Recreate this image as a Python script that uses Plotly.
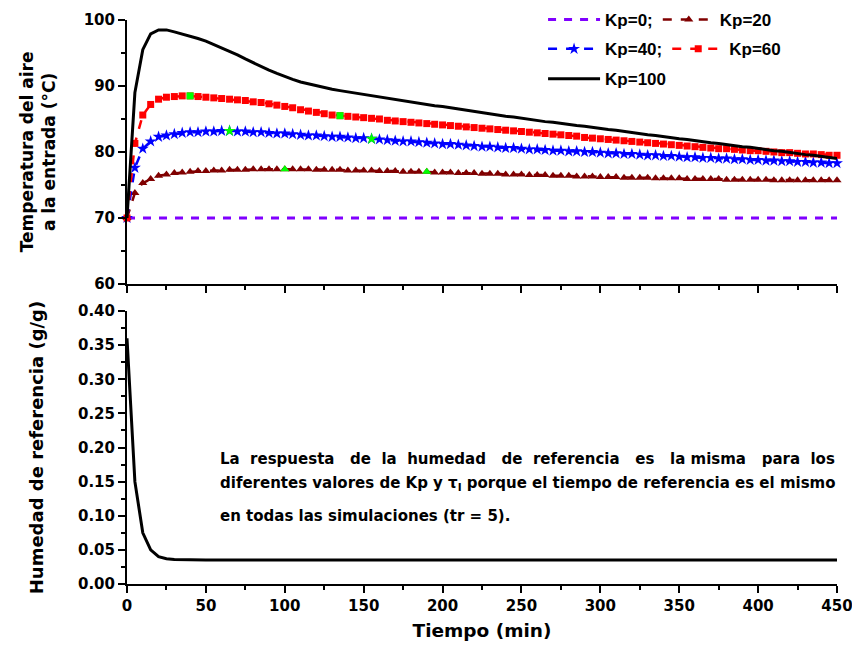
import plotly.graph_objects as go

# ---------------- data ----------------
T = list(range(0, 455, 5))  # time grid, min

KP0_T = [0, 450]
KP0 = [70.0, 70.0]

KP20 = [70.0, 73.8, 75.3, 75.9, 76.4, 76.6, 76.8, 76.9, 77.0, 77.1,
        77.1, 77.2, 77.2, 77.3, 77.3, 77.3, 77.4, 77.4, 77.4, 77.4,
        77.4, 77.4, 77.4, 77.4, 77.3, 77.3, 77.3, 77.3, 77.2, 77.2,
        77.2, 77.2, 77.1, 77.1, 77.1, 77.0, 77.0, 77.0, 77.0, 76.9,
        76.9, 76.9, 76.8, 76.8, 76.8, 76.7, 76.7, 76.7, 76.6, 76.6,
        76.6, 76.5, 76.5, 76.5, 76.4, 76.4, 76.4, 76.3, 76.3, 76.3,
        76.2, 76.2, 76.2, 76.1, 76.1, 76.1, 76.1, 76.0, 76.0, 76.0,
        76.0, 75.9, 75.9, 75.9, 75.9, 75.9, 75.8, 75.8, 75.8, 75.8,
        75.8, 75.8, 75.7, 75.7, 75.7, 75.7, 75.7, 75.7, 75.7, 75.7,
        75.7]

KP40 = [70.0, 77.6, 80.5, 81.6, 82.3, 82.5, 82.7, 82.9, 83.0, 83.0,
        83.1, 83.1, 83.2, 83.2, 83.1, 83.1, 83.0, 83.0, 82.9, 82.8,
        82.8, 82.7, 82.6, 82.5, 82.5, 82.4, 82.3, 82.3, 82.2, 82.1,
        82.1, 82.0, 81.9, 81.8, 81.7, 81.6, 81.6, 81.5, 81.4, 81.3,
        81.2, 81.2, 81.1, 81.0, 80.9, 80.8, 80.8, 80.7, 80.6, 80.6,
        80.5, 80.4, 80.4, 80.3, 80.2, 80.2, 80.1, 80.1, 80.0, 80.0,
        79.9, 79.8, 79.8, 79.7, 79.7, 79.6, 79.5, 79.5, 79.4, 79.4,
        79.3, 79.2, 79.2, 79.1, 79.1, 79.0, 79.0, 78.9, 78.9, 78.8,
        78.8, 78.7, 78.7, 78.6, 78.6, 78.5, 78.5, 78.4, 78.4, 78.3,
        78.3]

KP60 = [70.0, 81.3, 85.6, 87.2, 88.0, 88.3, 88.4, 88.5, 88.5, 88.4,
        88.3, 88.2, 88.1, 88.0, 87.9, 87.8, 87.6, 87.5, 87.3, 87.1,
        86.9, 86.7, 86.4, 86.2, 86.0, 85.8, 85.6, 85.5, 85.4, 85.3,
        85.2, 85.1, 85.0, 84.8, 84.7, 84.6, 84.5, 84.4, 84.3, 84.2,
        84.1, 84.0, 83.9, 83.8, 83.7, 83.6, 83.5, 83.4, 83.3, 83.2,
        83.1, 83.0, 82.9, 82.8, 82.7, 82.6, 82.5, 82.4, 82.2, 82.1,
        82.0, 81.9, 81.8, 81.7, 81.6, 81.5, 81.4, 81.3, 81.2, 81.1,
        81.0, 80.9, 80.8, 80.7, 80.6, 80.5, 80.5, 80.4, 80.3, 80.2,
        80.2, 80.1, 80.0, 79.9, 79.9, 79.8, 79.7, 79.7, 79.6, 79.5,
        79.5]

KP100 = [70.0, 89.0, 95.5, 97.9, 98.5, 98.5, 98.2, 97.9, 97.6, 97.2,
         96.8, 96.3, 95.8, 95.3, 94.7, 94.1, 93.5, 92.9, 92.4, 91.9,
         91.4, 91.0, 90.6, 90.3, 90.0, 89.7, 89.5, 89.3, 89.1, 88.9,
         88.8, 88.6, 88.4, 88.2, 88.0, 87.8, 87.6, 87.4, 87.2, 87.0,
         86.9, 86.7, 86.5, 86.3, 86.1, 85.9, 85.8, 85.6, 85.4, 85.3,
         85.1, 84.9, 84.8, 84.6, 84.5, 84.3, 84.2, 84.0, 83.9, 83.7,
         83.6, 83.4, 83.3, 83.1, 83.0, 82.8, 82.6, 82.5, 82.3, 82.2,
         82.0, 81.9, 81.7, 81.6, 81.4, 81.3, 81.1, 81.0, 80.8, 80.7,
         80.5, 80.4, 80.2, 80.1, 79.9, 79.8, 79.6, 79.5, 79.3, 79.2,
         79.0]

# highlighted (green) points, times in min
HL_KP20 = [100, 190]
HL_KP40 = [65, 155]
HL_KP60 = [40, 135]

H_T = [0, 5, 10, 15, 20, 25, 30, 35, 40, 50, 100, 150, 200, 250, 300, 350, 400, 450]
H = [0.36, 0.15, 0.075, 0.05, 0.04, 0.037, 0.036, 0.0355, 0.035, 0.035,
     0.035, 0.035, 0.035, 0.035, 0.035, 0.035, 0.035, 0.035]

NOTE_LINES = [
    "La  respuesta   de  la  humedad   de  referencia   es   la misma   para  los",
    "diferentes valores de Kp y τ<sub>I</sub> porque el tiempo de referencia es el mismo",
    "en todas las simulaciones (tr = 5).",
]

# ---------------- figure ----------------
WIDE = "DejaVu Sans, sans-serif"
ARIAL = "Liberation Sans, Arial, sans-serif"
fig = go.Figure()

fig.add_trace(go.Scatter(x=KP0_T, y=KP0, mode="lines", name="Kp=0;",
                         line=dict(color="#8000FF", width=3, dash="8px,8px"),
                         legend="legend", xaxis="x", yaxis="y"))
fig.add_trace(go.Scatter(x=T, y=KP20, mode="lines+markers", name="Kp=20",
                         line=dict(color="#800000", width=2.5, dash="dash"),
                         marker=dict(symbol="triangle-up", size=8, color="#800000"),
                         legend="legend", xaxis="x", yaxis="y", cliponaxis=False))
fig.add_trace(go.Scatter(x=T, y=KP40, mode="lines+markers", name="Kp=40;",
                         line=dict(color="#0000FF", width=2.5, dash="dash"),
                         marker=dict(symbol="star", size=9, color="#0000FF"),
                         legend="legend2", xaxis="x", yaxis="y", cliponaxis=False))
fig.add_trace(go.Scatter(x=T, y=KP60, mode="lines+markers", name="Kp=60",
                         line=dict(color="#FF0000", width=2.5, dash="dash"),
                         marker=dict(symbol="square", size=7, color="#FF0000"),
                         legend="legend2", xaxis="x", yaxis="y", cliponaxis=False))
fig.add_trace(go.Scatter(x=T, y=KP100, mode="lines", name="Kp=100",
                         line=dict(color="black", width=3),
                         legend="legend3", xaxis="x", yaxis="y", cliponaxis=False))

for hl, ser, sym, sz in [(HL_KP20, KP20, "triangle-up", 8),
                         (HL_KP40, KP40, "star", 9),
                         (HL_KP60, KP60, "square", 7)]:
    fig.add_trace(go.Scatter(x=hl, y=[ser[T.index(t)] for t in hl], mode="markers",
                             marker=dict(symbol=sym, size=sz, color="#00FF00"),
                             showlegend=False, xaxis="x", yaxis="y", cliponaxis=False))

fig.add_trace(go.Scatter(x=H_T, y=H, mode="lines", line=dict(color="black", width=3),
                         showlegend=False, xaxis="x2", yaxis="y2", cliponaxis=False))

axis_common = dict(showline=True, linewidth=2, linecolor="black", ticks="outside",
                   ticklen=7, tickwidth=2, tickcolor="black", showgrid=False,
                   zeroline=False, mirror=False, automargin=False,
                   ticklabeloverflow="allow")
minor_common = dict(ticks="outside", ticklen=4, tickwidth=2, tickcolor="black")
tickfont = dict(size=15, family=WIDE, weight="bold", color="black")

leg_common = dict(orientation="h", xanchor="left", yanchor="top",
                  bgcolor="rgba(0,0,0,0)", itemwidth=52,
                  font=dict(size=17, family=ARIAL, weight="bold", color="black"))

fig.update_layout(
    width=852, height=650,
    margin=dict(l=127, r=15, t=20, b=66, autoexpand=False),
    paper_bgcolor="white", plot_bgcolor="white",
    font=dict(family=ARIAL, color="black", weight="bold"),
    xaxis=dict(domain=[0, 1], range=[0, 450], anchor="y", tickvals=list(range(0, 451, 50)),
               showticklabels=False, minor=dict(dtick=25, **minor_common), **axis_common),
    yaxis=dict(domain=[0.532, 1], range=[60, 100], anchor="x", tickvals=[60, 70, 80, 90, 100],
               tickfont=tickfont, minor=dict(dtick=5, **minor_common),
               title=dict(text="Temperatura del aire<br>a la entrada (°C)",
                          font=dict(size=17, family=WIDE, weight="bold"), standoff=24),
               **axis_common),
    xaxis2=dict(domain=[0, 1], range=[0, 450], anchor="y2", tickvals=list(range(0, 451, 50)),
                tickfont=tickfont, minor=dict(dtick=25, **minor_common),
                title=dict(text="Tiempo (min)", font=dict(size=18.5, family=WIDE, weight="bold"),
                           standoff=10),
                **axis_common),
    yaxis2=dict(domain=[0, 0.484], range=[0, 0.40], anchor="x2",
                tickvals=[0, 0.05, 0.10, 0.15, 0.20, 0.25, 0.30, 0.35, 0.40], tickformat=".2f",
                tickfont=tickfont, minor=dict(dtick=0.025, **minor_common),
                title=dict(text="Humedad de referencia (g/g)",
                           font=dict(size=18, family=WIDE, weight="bold"), standoff=30),
                **axis_common),
    legend=dict(x=0.586, y=1.032, **leg_common),
    legend2=dict(x=0.586, y=0.980, **leg_common),
    legend3=dict(x=0.586, y=0.927, **leg_common),
)

note_y = [0.183, 0.147, 0.100]
for txt, yy in zip(NOTE_LINES, note_y):
    fig.add_annotation(x=57.7, y=yy, xref="x2", yref="y2", text=txt, showarrow=False,
                       xanchor="left", yanchor="middle", align="left",
                       font=dict(size=15, family=WIDE, weight="bold", color="black"))

fig.write_html("out.html")
